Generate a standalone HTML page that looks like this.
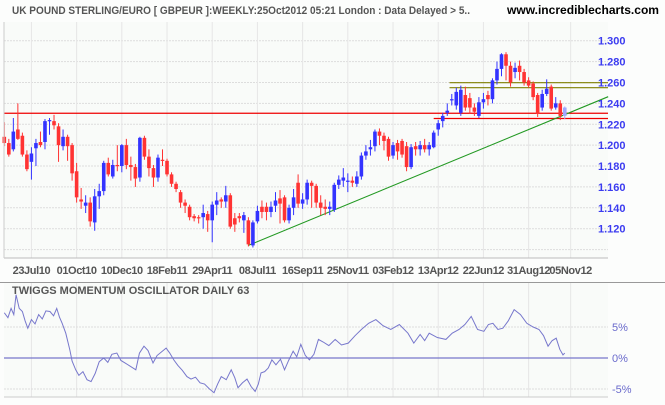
<!DOCTYPE html>
<html><head><meta charset="utf-8"><style>
body{margin:0;background:#fff;}
svg{display:block;font-family:"Liberation Sans",sans-serif;}
</style></head><body>
<svg id="c" width="665" height="405">
<rect x="0" y="0" width="665" height="405" fill="#fcfdfc"/>
<text x="12" y="14" font-size="11" font-weight="bold" fill="#555" textLength="458" lengthAdjust="spacingAndGlyphs">UK POUND STERLING/EURO [ GBPEUR ]:WEEKLY:25Oct2012 05:21 London : Data Delayed &gt; 5..</text>
<text x="507" y="14" font-size="11.5" font-weight="bold" fill="#000" textLength="152" lengthAdjust="spacingAndGlyphs">www.incrediblecharts.com</text>
<g id="grid"></g><g id="marks"></g><g id="axes"></g>
</svg>
<script>
const opens=[1.208,1.202,1.196,1.215,1.209,1.191,1.184,1.197,1.203,1.203,1.224,1.223,1.218,1.199,1.208,1.200,1.175,1.148,1.142,1.145,1.126,1.151,1.156,1.183,1.170,1.181,1.180,1.200,1.181,1.179,1.169,1.207,1.189,1.178,1.169,1.186,1.185,1.172,1.163,1.155,1.145,1.141,1.132,1.131,1.131,1.134,1.128,1.143,1.148,1.146,1.152,1.130,1.132,1.128,1.128,1.104,1.127,1.141,1.141,1.136,1.142,1.149,1.150,1.128,1.140,1.164,1.144,1.148,1.164,1.161,1.145,1.141,1.139,1.138,1.162,1.166,1.166,1.166,1.163,1.170,1.190,1.196,1.199,1.213,1.209,1.206,1.190,1.202,1.204,1.199,1.179,1.199,1.196,1.200,1.196,1.198,1.215,1.223,1.231,1.244,1.238,1.231,1.248,1.245,1.236,1.228,1.241,1.248,1.244,1.262,1.273,1.287,1.276,1.270,1.276,1.270,1.262,1.259,1.248,1.236,1.249,1.256,1.236,1.240,1.228];
const closes=[1.202,1.191,1.213,1.206,1.191,1.177,1.192,1.202,1.200,1.223,1.224,1.219,1.200,1.208,1.199,1.173,1.150,1.146,1.145,1.127,1.151,1.156,1.183,1.172,1.181,1.180,1.200,1.181,1.179,1.168,1.207,1.189,1.178,1.169,1.188,1.185,1.172,1.163,1.158,1.145,1.142,1.131,1.130,1.130,1.135,1.128,1.143,1.147,1.146,1.152,1.122,1.124,1.130,1.133,1.105,1.126,1.137,1.136,1.136,1.141,1.147,1.144,1.128,1.140,1.150,1.144,1.148,1.164,1.161,1.145,1.140,1.139,1.141,1.162,1.167,1.169,1.166,1.164,1.170,1.190,1.194,1.198,1.213,1.209,1.204,1.189,1.200,1.194,1.191,1.179,1.198,1.196,1.200,1.196,1.200,1.212,1.221,1.228,1.233,1.244,1.251,1.253,1.236,1.236,1.232,1.241,1.244,1.244,1.262,1.273,1.287,1.276,1.260,1.274,1.270,1.260,1.257,1.246,1.230,1.249,1.254,1.235,1.240,1.228,1.236];
const highs=[1.222,1.206,1.226,1.240,1.212,1.195,1.198,1.206,1.213,1.225,1.226,1.229,1.221,1.215,1.210,1.202,1.183,1.159,1.152,1.150,1.158,1.163,1.185,1.188,1.186,1.200,1.201,1.206,1.189,1.182,1.208,1.209,1.196,1.181,1.191,1.196,1.187,1.174,1.165,1.157,1.148,1.143,1.134,1.133,1.143,1.137,1.146,1.155,1.150,1.161,1.154,1.135,1.135,1.136,1.131,1.128,1.142,1.147,1.145,1.146,1.155,1.157,1.152,1.143,1.158,1.172,1.154,1.167,1.166,1.163,1.152,1.148,1.146,1.164,1.171,1.178,1.173,1.170,1.175,1.193,1.200,1.205,1.215,1.216,1.212,1.208,1.203,1.205,1.206,1.203,1.201,1.203,1.204,1.206,1.203,1.214,1.224,1.231,1.240,1.249,1.255,1.257,1.256,1.250,1.240,1.246,1.250,1.252,1.264,1.280,1.288,1.289,1.280,1.279,1.281,1.273,1.265,1.261,1.250,1.253,1.263,1.258,1.246,1.243,1.237];
const lows=[1.199,1.189,1.194,1.205,1.189,1.175,1.167,1.180,1.198,1.196,1.210,1.215,1.184,1.195,1.185,1.166,1.145,1.139,1.135,1.122,1.118,1.139,1.152,1.170,1.168,1.175,1.174,1.177,1.166,1.160,1.165,1.186,1.170,1.160,1.165,1.180,1.170,1.160,1.155,1.140,1.135,1.128,1.127,1.125,1.120,1.117,1.107,1.133,1.140,1.140,1.120,1.117,1.126,1.116,1.103,1.102,1.125,1.130,1.128,1.131,1.136,1.125,1.126,1.125,1.133,1.140,1.139,1.143,1.140,1.140,1.133,1.133,1.133,1.136,1.158,1.160,1.155,1.160,1.160,1.167,1.186,1.190,1.194,1.200,1.195,1.185,1.187,1.186,1.188,1.175,1.177,1.190,1.190,1.193,1.190,1.197,1.209,1.217,1.228,1.238,1.234,1.228,1.233,1.230,1.228,1.226,1.235,1.238,1.240,1.258,1.266,1.262,1.256,1.264,1.262,1.257,1.255,1.243,1.227,1.233,1.247,1.233,1.234,1.224,1.225];
const priceTicks=[1.120,1.140,1.160,1.180,1.200,1.220,1.240,1.260,1.280,1.300];
const dateLabels=["23Jul10","01Oct10","10Dec10","18Feb11","29Apr11","08Jul11","16Sep11","25Nov11","03Feb12","13Apr12","22Jun12","31Aug12","05Nov12"];
const dateWeeks=[6,16,26,36,46,56,66,76,86,96,106,116,125.3];
const oscWeeks=[0,0.8,1.5,2.1,2.6,3.3,4.0,4.6,5.2,6.0,6.8,7.6,8.4,9.2,10.1,10.9,11.6,12.2,12.8,13.6,14.5,15.0,15.8,16.5,17.4,18.3,19.2,20.1,21.0,22,22.9,23.8,24.9,25.8,26.7,27.8,29.1,29.9,30.9,31.8,32.9,33.8,35.8,36.6,37.5,38.4,39.4,40.4,41.3,42.3,43.3,44.3,45.4,46.4,47.2,48,49.1,50.2,51.0,51.7,52.7,53.7,54.6,55.5,56.2,56.8,57.6,58.4,59.2,60.1,61.1,62.0,62.9,63.9,64.7,65.6,66.6,67.5,68.5,69.5,70.5,71.8,73.2,74.6,76.1,77.6,79,80.6,82.2,83.8,85.5,87.4,89.3,90.6,92,93,94,95.8,97.7,99.1,100.6,101.9,103.3,104.7,106.1,107.1,108.1,109.2,110.3,111.5,112.8,114.2,115.6,117,118.3,119.3,120.3,121.2,122.1,122.9,123.6,124];
const oscValues=[7.3,6.5,8.0,7.0,10.2,8.0,7.5,6.0,4.8,6.2,5.5,7.0,6.3,7.6,7.5,6.8,8.0,6.6,5.6,4.0,1.3,-0.5,-1.9,-2.8,-2.2,-3.5,-3.8,-2.5,-0.6,0,-0.7,0.6,0.8,-0.4,-0.8,-1.3,-1.9,0.8,1.9,1.2,-0.8,0.4,1.6,0.8,-0.3,-1.2,-2.0,-3,-3.4,-3.1,-4,-4.2,-5.0,-5.6,-4.2,-3,-3.5,-1.9,-3.2,-4.8,-4.0,-3.4,-4.6,-5.4,-4.2,-2.4,-2.2,-1.6,-0.3,-1.1,-0.2,-1.9,-0.4,1.1,0.2,2.2,0.4,-0.3,0.6,3.0,2.6,2.0,3,2.1,2.4,3.6,4.6,5.6,6.2,5.2,4.6,5.4,4.0,2.4,3.8,2.8,4,3.3,3,4.0,4.6,5.4,6.7,4.6,4.3,5.4,5.6,4.6,4.8,6.0,7.8,7.0,5.6,5.0,4.6,3.6,1.9,2.8,3.2,1.4,0.5,0.8,-0.3,0.2];
const oscTicks=[-5,0,5];
const resistance=[1.2305,1.2255];
const resistanceStart=[-1,95];
const olive=[1.2598,1.2550];
const oliveStart=[98.5,98.5];
const trendWeeks=[54,133.6];
const trendPrices=[1.104,1.2464];

const NS="http://www.w3.org/2000/svg";
const L=4,R=608,PT=22,PB=258,OT=283,OB=397;
const xW=w=>4.3+w*4.52;
const yP=p=>40.7+(1.3-p)*1044.4;
const yO=v=>358-v*6.2;
function mk(tag,attrs,parent,txt){const e=document.createElementNS(NS,tag);for(const k in attrs)e.setAttribute(k,attrs[k]);if(txt!==undefined)e.textContent=txt;parent.appendChild(e);return e;}
const G=document.getElementById('grid'),M=document.getElementById('marks'),A=document.getElementById('axes');

let e;
e=mk('rect',{x:L,y:PT,width:R-L,height:PB-PT,fill:'#f9fbf9'},G);


e=mk('rect',{x:L,y:OT,width:R-L,height:OB-OT,fill:'#f9fbf9'},G);


priceTicks.forEach(p=>{
  e=mk('line',{x1:L,x2:R,y1:yP(p),y2:yP(p),stroke:'#ddd','stroke-dasharray':'2,1'},G);
  
  
  e=mk('text',{x:598,y:yP(p)+4,'font-size':11,'font-weight':'bold',fill:'#3c3cf0'},A,p.toFixed(3));
  
  
});
mk('line',{x1:L,x2:R,y1:yP(1.1),y2:yP(1.1),stroke:'#ddd','stroke-dasharray':'2,1'},G);
dateWeeks.forEach((w,i)=>{
  const x=xW(w);
  e=mk('line',{x1:x,x2:x,y1:PT,y2:PB,stroke:'#e6e6e6'},G);
  
  
  e=mk('line',{x1:x,x2:x,y1:OT,y2:OB,stroke:'#e6e6e6'},G);
  
  
  e=mk('text',{x:x,y:274,'font-size':11,'font-weight':'bold',fill:'#555','text-anchor':'middle','letter-spacing':'-0.4'},A,dateLabels[i]);
  
  
});
e=mk('line',{x1:L,x2:R,y1:PB,y2:PB,stroke:'#bbb'},A);


e=mk('line',{x1:L,x2:L,y1:PT,y2:PB,stroke:'#ccc'},A);


e=mk('line',{x1:0,x2:665,y1:OT-0.5,y2:OT-0.5,stroke:'#999'},A);


e=mk('line',{x1:L,x2:R,y1:OB,y2:OB,stroke:'#ccc'},A);



resistance.forEach((p,i)=>{
  e=mk('line',{x1:Math.max(L,xW(resistanceStart[i])),x2:R,y1:yP(p),y2:yP(p),stroke:'#ee0000','stroke-width':1.2},M);
  
  
});
olive.forEach((p,i)=>{
  e=mk('line',{x1:xW(oliveStart[i]),x2:R,y1:yP(p),y2:yP(p),stroke:'#808000','stroke-width':1.2},M);
  
  
});
e=mk('line',{x1:xW(trendWeeks[0]),x2:xW(trendWeeks[1]),y1:yP(trendPrices[0]),y2:yP(trendPrices[1]),stroke:'#229922','stroke-width':1.1},M);



closes.forEach((c,i)=>{
  const o=opens[i],x=xW(i);
  const last=i===closes.length-1;
  const col=last?'#a0a8ff':(c>=o?'#3333ff':'#ff3333');
  const g=mk('g',{},M);
  
  
  mk('line',{x1:x,x2:x,y1:yP(highs[i]),y2:yP(lows[i]),stroke:col,'stroke-width':1},g);
  const top=yP(Math.max(o,c)),bot=yP(Math.min(o,c));
  mk('rect',{x:x-1.8,y:top,width:3.6,height:Math.max(1.2,bot-top),fill:col},g);
});

e=mk('text',{x:12,y:294,'font-size':11,'font-weight':'bold',fill:'#555'},A,'TWIGGS MOMENTUM OSCILLATOR DAILY 63');


oscTicks.forEach(v=>{
  e=mk('line',{x1:L,x2:R,y1:yO(v),y2:yO(v),stroke:v===0?'#7777cc':'#ddd','stroke-dasharray':v===0?'':'2,1','stroke-width':v===0?1.2:1},G);
  
  
  e=mk('text',{x:612,y:yO(v)+4,'font-size':11,fill:'#6a6acc'},A,(v<0?'-':'')+Math.abs(v)+'%');
  
  
});
e=mk('polyline',{points:oscWeeks.map((w,i)=>xW(w)+','+yO(oscValues[i])).join(' '),fill:'none',stroke:'#7777cc','stroke-width':1},M);


</script>
</body></html>
